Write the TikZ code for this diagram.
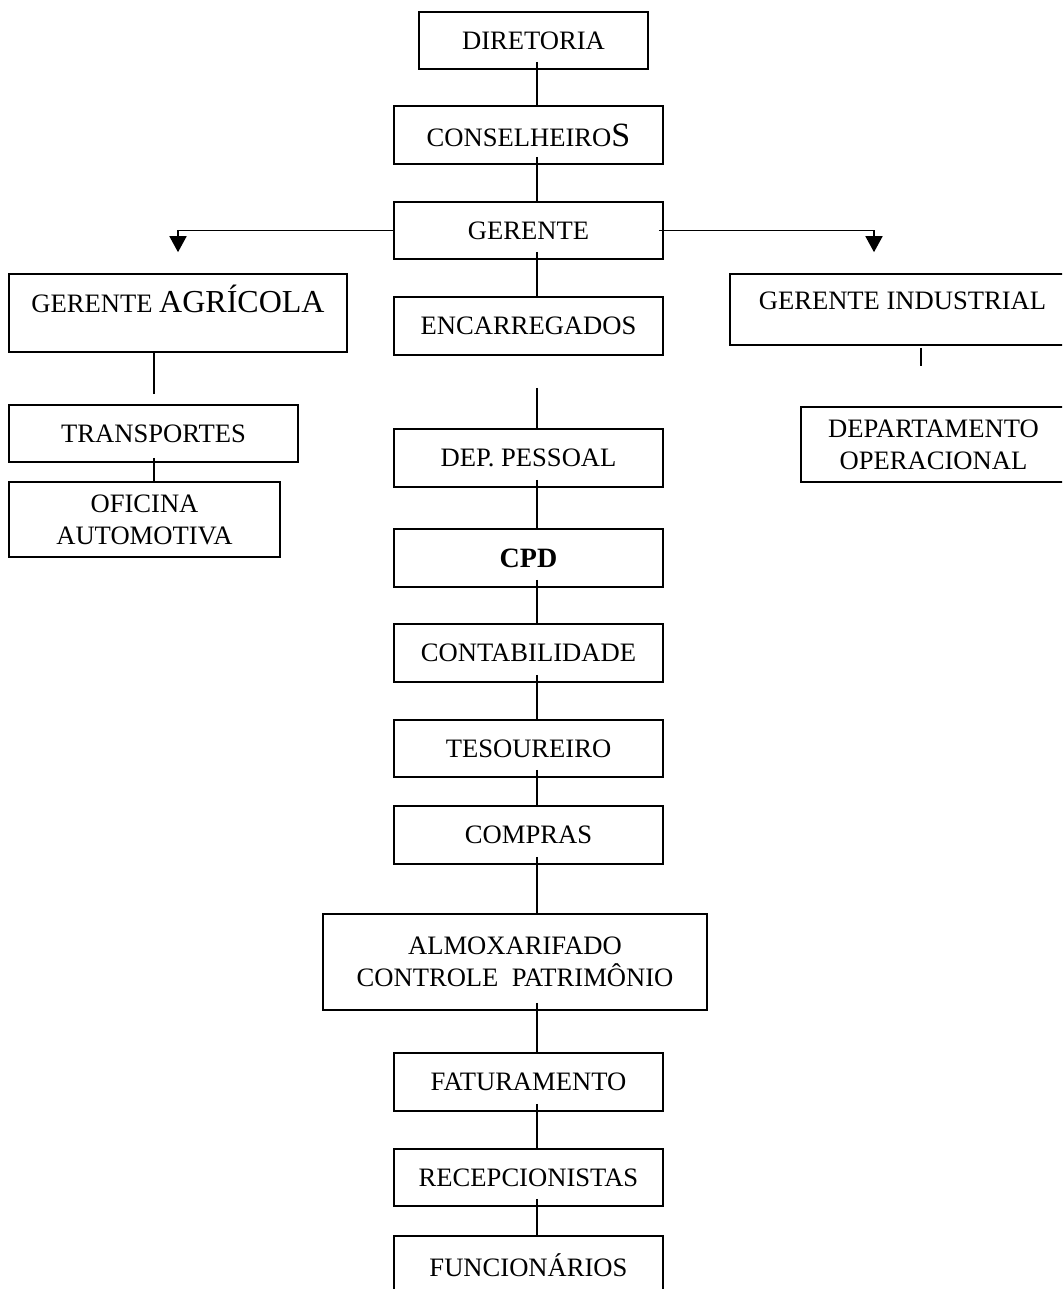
\documentclass[tikz,border=0pt]{standalone}
\usepackage{fontspec}
\setmainfont{Liberation Serif}
\usetikzlibrary{arrows.meta}

\begin{document}
\begin{tikzpicture}[
    x=0.5pt, y=-0.5pt,
    box/.style={draw, line width=0.8pt, inner sep=0pt, align=center,
                font=\fontsize{13.3}{16}\selectfont,
                minimum width=134.5pt, minimum height=29pt},
    link/.style={line width=0.8pt},
    arr/.style={link, -{Triangle[width=8.5pt,length=8pt]}}
  ]
  \useasboundingbox (0,0) rectangle (1062,1289);
  \clip (0,0) rectangle (1062,1289);

  \coordinate (spine) at (537,0);
  \coordinate (lspine) at (154,0);
  \coordinate (rspine) at (921,0);

  \node[box, minimum width=114.5pt, minimum height=28.5pt] (dir) at (533.5,40.5) {DIRETORIA};
  \node[box] (cons) at (528.5,135) {CONSELHEIRO{\fontsize{17}{17}\selectfont S}};
  \node[box, minimum height=28.5pt] (ger) at (528.5,230.5) {GERENTE};
  \node[box] (enc) at (528.5,326) {ENCARREGADOS};
  \node[box, minimum width=169pt, minimum height=39pt, text height=9pt, text depth=10pt]
    (ga) at (178,313) {GERENTE {\fontsize{16}{16}\selectfont AGRÍCOLA}};
  \node[box, minimum width=172.5pt, minimum height=35.5pt, text height=9pt, text depth=9.5pt]
    (ind) at (902.5,309.5) {GERENTE INDUSTRIAL};
  \node[box, minimum width=144.5pt, minimum height=28.5pt] (trans) at (153.5,433.5) {TRANSPORTES};
  \node[box, minimum width=135.5pt, minimum height=37.5pt] (ofi) at (144.5,519.5) {OFICINA\\AUTOMOTIVA};
  \node[box, minimum width=132.5pt, minimum height=37.5pt] (depop) at (933.5,444.5) {DEPARTAMENTO\\OPERACIONAL};
  \node[box] (dep) at (528.5,458) {DEP. PESSOAL};
  \node[box, font=\fontsize{14}{16}\selectfont\bfseries] (cpd) at (528.5,558) {CPD};
  \node[box] (cont) at (528.5,653) {CONTABILIDADE};
  \node[box, minimum height=28.5pt] (tes) at (528.5,748.5) {TESOUREIRO};
  \node[box] (comp) at (528.5,835) {COMPRAS};
  \node[box, minimum width=192pt, minimum height=48pt] (alm) at (515,962) {ALMOXARIFADO\\CONTROLE\ \ PATRIMÔNIO};
  \node[box] (fat) at (528.5,1082) {FATURAMENTO};
  \node[box, minimum height=28.5pt] (rec) at (528.5,1177.5) {RECEPCIONISTAS};
  \node[box] (fun) at (528.5,1265) {FUNCIONÁRIOS};

  \foreach \a/\b in {dir/cons, cons/ger, ger/enc, dep/cpd, cpd/cont, cont/tes,
                     tes/comp, comp/alm, alm/fat, fat/rec, rec/fun}
    \draw[link] (\a.south -| spine) ++(0,-8) -- (\b.north -| spine);
  \draw[link] (enc.south -| spine) ++(0,32) -- (dep.north -| spine);

  \draw[arr] (ger.west) -| ([yshift=10.5pt]ga.north);
  \draw[arr] ([xshift=-2.5pt]ger.east) -| ([xshift=-14.25pt,yshift=10.5pt]ind.north);

  \draw[link] (trans.north -| lspine) ++(0,-10) -- (ga.south -| lspine);
  \draw[link] (trans.south -| lspine) ++(0,-5) -- (ofi.north -| lspine);
  \draw[link] (ind.south -| rspine) ++(0,2) -- ++(0,18);
\end{tikzpicture}
\end{document}
